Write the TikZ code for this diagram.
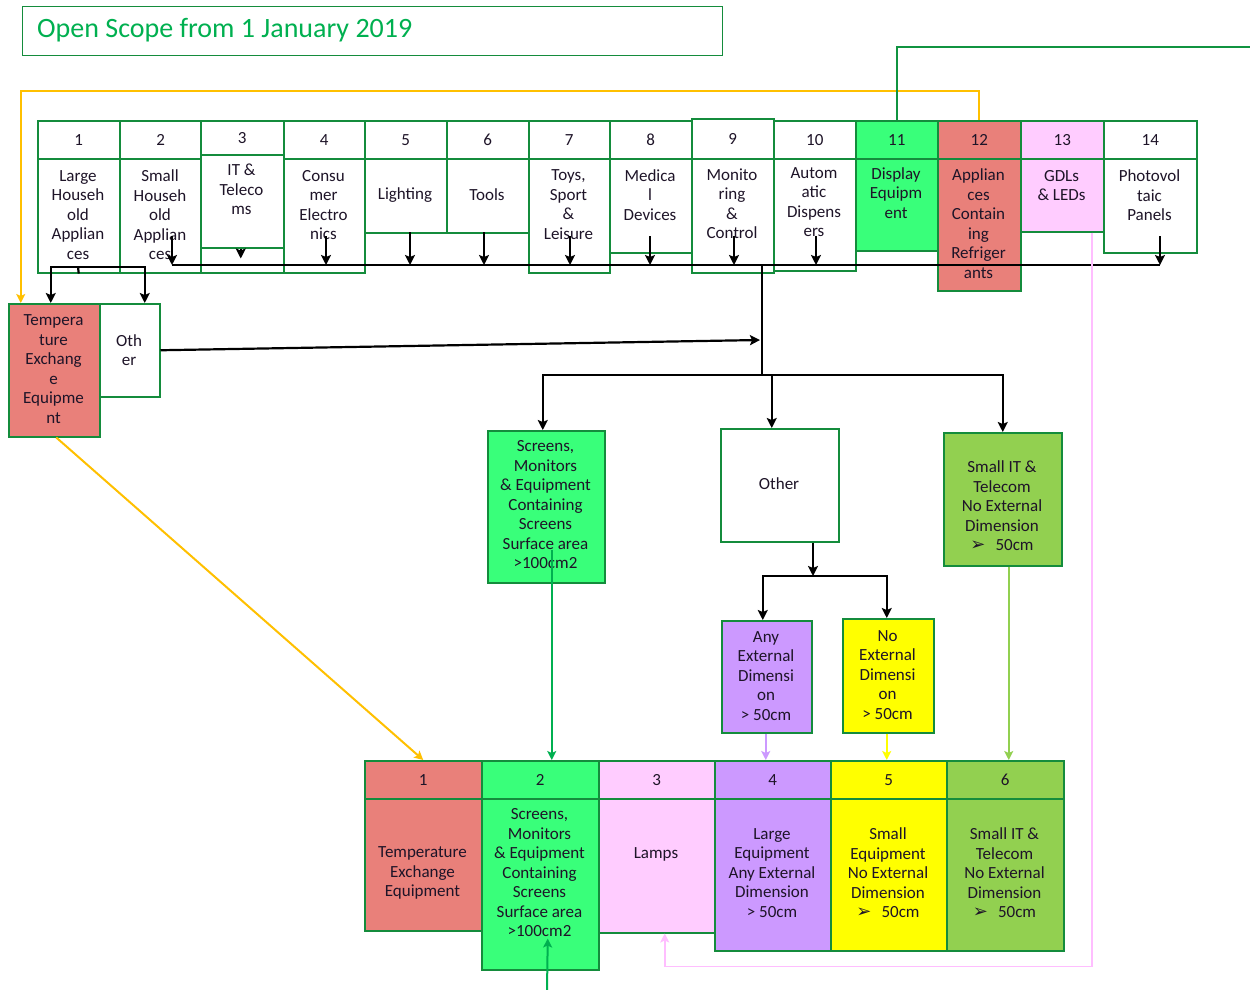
\documentclass[tikz,border=0pt]{standalone}
\usepackage{fontspec}
\setmainfont{Carlito}
\newfontfamily\symfont{DejaVu Sans}
\usetikzlibrary{arrows.meta,calc}
\definecolor{bgreen}{RGB}{20,140,60}
\definecolor{salmon}{RGB}{233,128,122}
\definecolor{brgreen}{RGB}{57,255,122}
\definecolor{lpink}{RGB}{255,204,255}
\definecolor{lpurple}{RGB}{204,153,255}
\definecolor{yell}{RGB}{255,255,0}
\definecolor{lgreen}{RGB}{146,208,80}
\definecolor{orng}{RGB}{255,192,0}
\definecolor{ttlgreen}{RGB}{0,176,80}
\definecolor{pinkline}{RGB}{255,190,255}
\definecolor{txtc}{RGB}{30,20,40}
\newcommand\bx[6]{\node[box, fill=#6, minimum width={(#4-#2)*1pt}, minimum height={(#5-#3)*1pt}] (#1) at (#2,#3) {};}
\newcommand\ngt{{\symfont\fontsize{18}{19.5}\selectfont ➢}\hspace{10pt}}
\begin{document}
\begin{tikzpicture}[x=1pt,y=-1pt,
 box/.style={draw=bgreen, line width=1.5pt, inner sep=0pt, anchor=north west},
 txt/.style={align=center, font=\fontsize{17}{19.5}\selectfont, text=txtc, inner sep=0pt},
 blk/.style={line width=2.2pt, black},
 arr/.style={blk, -{Stealth[length=10pt,width=10pt,inset=2pt]}},
 carr/.style={line width=1.6pt, -{Stealth[length=9pt,width=9pt,inset=2pt]}},
]
\fill[white] (0,0) rectangle (1250,990);
\useasboundingbox (0,0) rectangle (1250,990);

% title
\node[draw=bgreen, line width=1.2pt, anchor=north west, minimum width=700pt, minimum height=49pt, inner sep=0pt] (title) at (22,6) {};
\node[anchor=west, font=\fontsize{28}{32}\selectfont, text=ttlgreen, inner sep=0pt] (ttl) at (37,30) {Open Scope from 1 January 2019};

% top row
\bx{h1}{37}{120}{119}{158}{white}   \bx{b1}{37}{158}{119}{272}{white}
\bx{h2}{119}{120}{201}{158}{white}  \bx{b2}{119}{158}{201}{272}{white}
\bx{h3}{200}{120}{283}{154}{white}  \bx{b3}{200}{154}{283}{247}{white}
\bx{b3x}{200}{247}{283}{272}{white}
\bx{h4}{283}{120}{364}{158}{white}  \bx{b4}{283}{158}{364}{272}{white}
\bx{h5}{364}{120}{446}{158}{white}  \bx{b5}{364}{158}{446}{232}{white}
\bx{h6}{446}{120}{528}{158}{white}  \bx{b6}{446}{158}{528}{232}{white}
\bx{h7}{528}{120}{609}{158}{white}  \bx{b7}{528}{158}{609}{272}{white}
\bx{h8}{609}{120}{691}{158}{white}  \bx{b8}{609}{158}{691}{252}{white}
\bx{h9}{691}{118}{773}{158}{white}  \bx{b9}{691}{158}{773}{272}{white}
\bx{h10}{773}{120}{855}{158}{white} \bx{b10}{773}{158}{855}{270}{white}
\bx{h11}{855}{120}{937}{158}{brgreen} \bx{b11}{855}{158}{937}{250}{brgreen}
\bx{h12}{937}{120}{1020}{158}{salmon} \bx{b12}{937}{158}{1020}{290}{salmon}
\bx{h13}{1020}{120}{1103}{158}{lpink} \bx{b13}{1020}{158}{1103}{231}{lpink}
\bx{h14}{1103}{120}{1196}{158}{white} \bx{b14}{1103}{158}{1196}{252}{white}

\foreach \i in {1,...,14} {\node[txt] (n\i) at (h\i) {\i};}

\node[txt] (t1) at (78,215) {Large\\Househ\\old\\Applian\\ces};
\node[txt] (t2) at (160,215) {Small\\Househ\\old\\Applian\\ces};
\node[txt] (t3) at (241.5,189.5) {IT \&\\Teleco\\ms};
\node[txt] (t4) at (323.5,205) {Consu\\mer\\Electro\\nics};
\node[txt] (t5) at (405,195) {Lighting};
\node[txt] (t6) at (487,195) {Tools};
\node[txt] (t7) at (568.5,204.5) {Toys,\\Sport\\\&\\Leisure};
\node[txt] (t8) at (650,195) {Medica\\l\\Devices};
\node[txt] (t9) at (732,203.5) {Monito\\ring\\\&\\Control};
\node[txt] (t10) at (814,202) {Autom\\atic\\Dispens\\ers};
\node[txt] (t11) at (896,193) {Display\\Equipm\\ent};
\node[txt] (t12) at (978.5,223.5) {Applian\\ces\\Contain\\ing\\Refriger\\ants};
\node[txt] (t13) at (1061.5,185.5) {GDLs\\\& LEDs};
\node[txt] (t14) at (1149.5,195.5) {Photovol\\taic\\Panels};

% left boxes
\bx{tee}{8}{303}{99}{436}{salmon}
\bx{oth}{99}{303}{159}{396}{white}
\node[txt] (ttee) at (53.5,369) {Tempera\\ture\\Exchang\\e\\Equipme\\nt};
\node[txt] (toth) at (129,350) {Oth\\er};

% middle boxes
\bx{scr}{487}{430}{604}{582}{brgreen}
\bx{oth2}{720}{428}{838}{541}{white}
\bx{sit}{943}{432}{1061}{565}{lgreen}
\bx{any}{721}{620}{811}{732}{lpurple}
\bx{noe}{842}{618}{933}{732}{yell}
\node[txt] (tscr) at (545.5,505) {Screens,\\Monitors\\\& Equipment\\Containing\\Screens\\Surface area\\>100cm2};
\node[txt] (toth2) at (779,484) {Other};
\node[txt] (tsit) at (1002,506) {Small IT \&\\Telecom\\No External\\Dimension\\\ngt 50cm};
\node[txt] (tany) at (766,676) {Any\\External\\Dimensi\\on\\> 50cm};
\node[txt] (tnoe) at (887.5,675) {No\\External\\Dimensi\\on\\> 50cm};

% bottom row
\bx{bh1}{364}{760}{481}{798}{salmon}  \bx{bb1}{364}{798}{481}{930}{salmon}
\bx{bh2}{481}{760}{598}{798}{brgreen} \bx{bb2}{481}{798}{598}{969}{brgreen}
\bx{bh3}{598}{760}{714}{798}{lpink}   \bx{bb3}{598}{798}{714}{932}{lpink}
\bx{bh4}{714}{760}{830}{798}{lpurple} \bx{bb4}{714}{798}{830}{950}{lpurple}
\bx{bh5}{830}{760}{946}{798}{yell}    \bx{bb5}{830}{798}{946}{950}{yell}
\bx{bh6}{946}{760}{1063}{798}{lgreen} \bx{bb6}{946}{798}{1063}{950}{lgreen}
\foreach \i in {1,...,6} {\node[txt] (bn\i) at (bh\i) {\i};}
\node[txt] (tb1) at (422.5,873) {Temperature\\Exchange\\Equipment};
\node[txt] (tb2) at (539.5,873) {Screens,\\Monitors\\\& Equipment\\Containing\\Screens\\Surface area\\>100cm2};
\node[txt] (tb3) at (656,854) {Lamps};
\node[txt] (tb4) at (772,873) {Large\\Equipment\\Any External\\Dimension\\> 50cm};
\node[txt] (tb5) at (888,873) {Small\\Equipment\\No External\\Dimension\\\ngt 50cm};
\node[txt] (tb6) at (1004.5,873) {Small IT \&\\Telecom\\No External\\Dimension\\\ngt 50cm};

% black connectors
\coordinate (busL) at (172,265);
\coordinate (busR) at (1160,265);
\draw[blk] (busL) -- (busR);
\foreach \n/\x/\y in {s2/172/236, s4/326/236, s5/410/232, s6/484/232, s7/570/236, s8/650/236, s9/734/236, s10/816/236, s14/1160/236} {
  \coordinate (\n) at (\x,\y);
  \draw[arr] (\n) -- (\n |- busL);
}
\draw[arr] ([xshift=-1.5pt]b3.south) -- ++(0,10);

\coordinate (k1) at (78,267);
\draw[blk] (b1.south) -- (k1);
\draw[arr] (k1) -| ([xshift=-3.5pt]tee.north);
\draw[arr] (k1) -| ([xshift=15pt]oth.north);

\coordinate (j) at (762,265);
\coordinate (hub) at (762,375);
\coordinate (m) at (760,340);
\draw[blk] (j) -- (hub);
\draw[arr] (oth.east) -- (m);
\draw[arr] (hub) -| ([xshift=-3.5pt]scr.north);
\draw[arr] (hub) -| ([xshift=-8pt]oth2.north);
\draw[arr] (hub) -| (sit.north);

\coordinate (h2) at (813,576);
\draw[arr] (oth2.south -| h2) -- (h2);
\draw[arr] (h2) -| ([xshift=-4pt]any.north);
\draw[arr] (h2) -| ([xshift=-1.5pt]noe.north);

% coloured connectors
\draw[carr, orng, line width=2pt] ([xshift=2pt]tee.south) -- (bh1.north);
\draw[carr, orng, line width=2pt] (h12.north) -- ++(0,-29) -| ([xshift=-33.5pt]tee.north);
\coordinate (gend) at (1250,47);
\draw[bgreen!80!ttlgreen, line width=1.6pt] (h11.north) |- (gend);
\coordinate (scrb) at ([xshift=5.5pt,yshift=34pt]scr.south);
\draw[carr, ttlgreen] (scrb) -- (scrb |- bh2.north);
\draw[carr, lpurple] ([xshift=-1pt]any.south) -- ([xshift=-1pt]any.south |- bh4.north);
\draw[carr, yell] ([xshift=-1.5pt]noe.south) -- ([xshift=-1.5pt]noe.south |- bh5.north);
\coordinate (sitb) at ([xshift=6pt]sit.south);
\draw[carr, lgreen] (sitb) -- (sitb |- bh6.north);
\coordinate (p1) at ([xshift=29.5pt]b13.south);
\draw[carr, pinkline] (p1) -- ++(0,734) -| ([xshift=8pt]bb3.south);
\coordinate (gb) at (547,990);
\draw[carr, ttlgreen, line width=2pt] (gb) -- ([xshift=7.5pt,yshift=32pt]bb2.south);
\end{tikzpicture}
\end{document}
